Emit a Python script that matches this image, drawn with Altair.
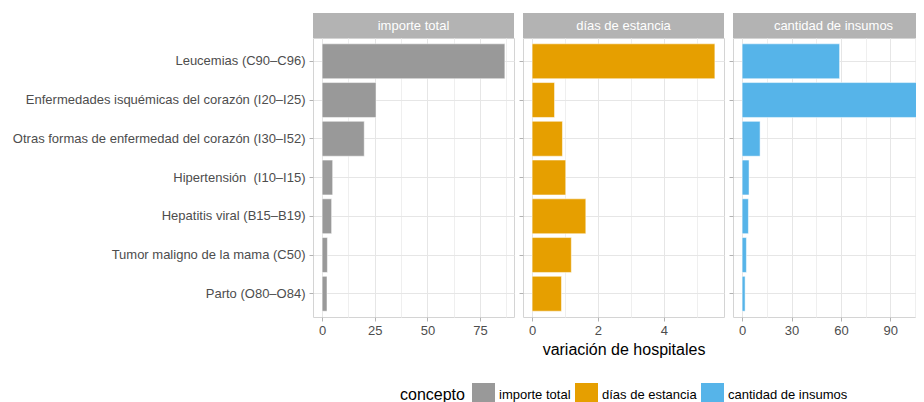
import altair as alt
import pandas as pd

categorias = [
    "Leucemias (C90–C96)",
    "Enfermedades isquémicas del corazón (I20–I25)",
    "Otras formas de enfermedad del corazón (I30–I52)",
    "Hipertensión\u00a0 (I10–I15)",
    "Hepatitis viral (B15–B19)",
    "Tumor maligno de la mama (C50)",
    "Parto (O80–O84)",
]
conceptos = ["importe total", "días de estancia", "cantidad de insumos"]
colores = ["#999999", "#E69F00", "#56B4E9"]

importe_total = [86.8, 25.6, 20.0, 5.0, 4.5, 2.5, 2.3]
dias_estancia = [5.55, 0.68, 0.92, 1.02, 1.63, 1.19, 0.89]
cantidad_insumos = [59.2, 111.0, 10.9, 4.2, 3.8, 2.6, 1.8]

ticks_importe = [0, 25, 50, 75]
ticks_dias = [0, 2, 4]
ticks_insumos = [0, 30, 60, 90]

series = [importe_total, dias_estancia, cantidad_insumos]
ticks = [ticks_importe, ticks_dias, ticks_insumos]

rows = []
for c, vals in zip(conceptos, series):
    for cat, v in zip(categorias, vals):
        rows.append({"categoria": cat, "concepto": c, "valor": v})
df = pd.DataFrame(rows)

FONT = "Liberation Sans"
W, H, STRIP = 201, 279, 25
GRID = "#e6e6e6"
TICK = "#b3b3b3"
TXT = "#4d4d4d"

color_scale = alt.Scale(domain=conceptos, range=colores)


def panel(i):
    c = conceptos[i]
    vals = series[i]
    major = ticks[i]
    step = major[1] - major[0]
    vmax = max(vals)
    lo, hi = -0.05 * vmax, 1.05 * vmax
    half = step / 2
    minor = []
    k = 0
    while k * half <= hi:
        v = k * half
        minor.append(int(v) if float(v).is_integer() else v)
        k += 1

    xaxis = alt.Axis(
        values=minor,
        labelExpr=f"datum.value % {step} === 0 ? datum.label : ''",
        tickColor={"condition": {"test": f"datum.value % {step} !== 0", "value": "transparent"}, "value": TICK},
        gridColor={"condition": {"test": f"datum.value % {step} !== 0", "value": "#efefef"}, "value": GRID},
        tickSize=4,
        labelPadding=3,
        labelFont=FONT,
        labelFontSize=13,
        labelColor=TXT,
        labelFlush=False,
        domain=False,
        grid=True,
        title="variación de hospitales" if i == 1 else None,
        titleFont=FONT,
        titleFontSize=16,
        titleFontWeight="normal",
        titleColor="#000000",
        titlePadding=4,
    )
    if i == 0:
        yaxis = alt.Axis(
            title=None, labelFont=FONT, labelFontSize=13, labelColor=TXT,
            tickSize=4, tickColor=TICK, labelPadding=4, domain=False,
            grid=True, gridColor=GRID, labelLimit=400,
        )
    else:
        yaxis = alt.Axis(
            title=None, labels=False, tickSize=4, tickColor=TICK,
            domain=False, grid=True, gridColor=GRID,
        )

    bars = alt.Chart(df).transform_filter(
        alt.datum.concepto == c
    ).mark_bar(stroke="white", strokeWidth=0.5).encode(
        y=alt.Y("categoria:N", sort=categorias,
                scale=alt.Scale(paddingInner=0.1, paddingOuter=0.15), axis=yaxis),
        x=alt.X("valor:Q", scale=alt.Scale(domain=[lo, hi], nice=False, zero=False), axis=xaxis),
        color=alt.Color(
            "concepto:N", scale=color_scale,
            legend=alt.Legend(
                orient="none", legendX=87, legendY=345, direction="horizontal",
                title="concepto", titleOrient="left", titleFont=FONT, titleFontSize=16,
                titleFontWeight="normal", titleColor="#000000", titlePadding=7,
                titleBaseline="middle", titleAnchor="middle",
                labelFont=FONT, labelFontSize=13, labelColor="#000000",
                symbolType="square", symbolSize=529, symbolStrokeWidth=0,
                symbolOpacity=1, columnPadding=4, labelOffset=4,
            ),
        ),
    )

    strip_df = pd.DataFrame({"concepto": [c]})
    strip = alt.Chart(strip_df).mark_rect(fill="#b3b3b3").encode(
        x=alt.value(0), x2=alt.value(W), y=alt.value(-STRIP), y2=alt.value(0)
    )
    strip_txt = alt.Chart(strip_df).mark_text(
        font=FONT, fontSize=13, color="white", baseline="middle", align="center"
    ).encode(x=alt.value(W / 2), y=alt.value(-STRIP / 2 + 0.5), text="concepto:N")

    return alt.layer(bars, strip, strip_txt).properties(width=W, height=H)


chart = alt.hconcat(panel(0), panel(1), panel(2), spacing=3).resolve_scale(
    x="independent", color="shared"
).properties(
    autosize=alt.AutoSizeParams(type="none"),
    padding={"left": 305, "top": 30, "right": 603, "bottom": 364},
    background="white",
).configure_view(stroke="#d4d4d4", strokeWidth=1)

chart.save("out.html", embed_options={"renderer": "svg", "actions": False})
